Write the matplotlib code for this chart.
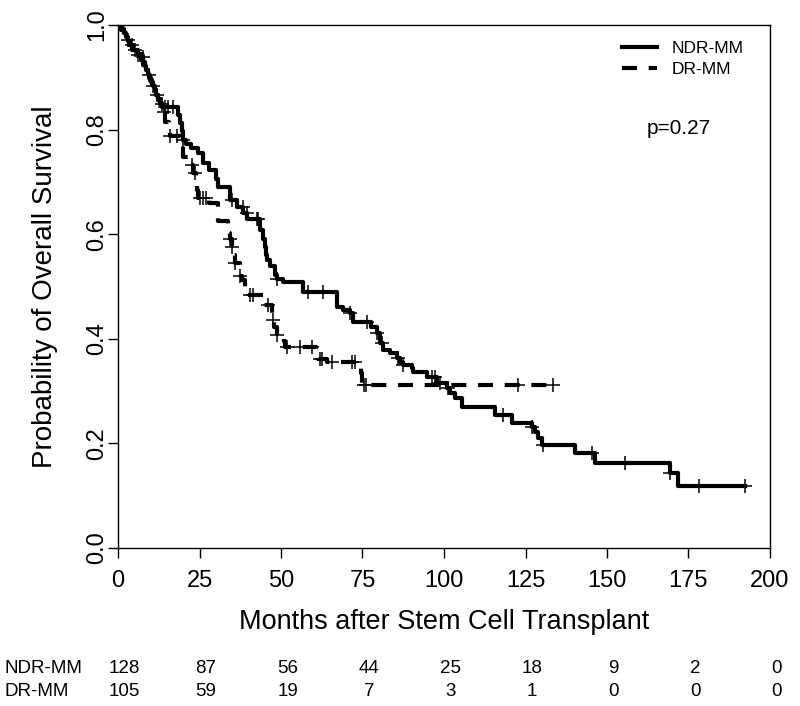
import numpy as np
import matplotlib
matplotlib.use("Agg")
import matplotlib.pyplot as plt

plt.rcParams['font.family'] = ['Liberation Sans', 'DejaVu Sans']

# ---- data ----
ndr_times = [1.2, 1.8, 2.5, 3.2, 3.8, 4.6, 6.0, 7.5, 7.8, 8.2, 8.7, 9.2, 9.6, 10.0, 10.6,
             11.2, 11.6, 12.2, 12.8, 13.5, 18.5, 19.0, 19.5, 19.8, 21.0, 22.5, 24.5, 26.0,
             28.0, 30.0, 30.8, 34.4, 36.5, 38.4, 39.6, 43.6, 44.5, 45.0, 45.3, 45.7, 46.6,
             48.2, 48.8, 50.6, 56.8, 67.2, 69.0, 71.2, 72.1, 77.5, 79.4, 80.4, 81.3, 83.4,
             85.6, 86.5, 87.4, 90.2, 90.5, 94.8, 97.9, 100.9, 101.8, 103.4, 105.5, 115.6,
             120.9, 127.0, 127.9, 128.8, 130.0, 140.2, 146.3, 169.3, 171.8]
ndr_surv = [0.992, 0.984, 0.977, 0.969, 0.961, 0.953, 0.945, 0.938, 0.930, 0.922, 0.914,
            0.906, 0.898, 0.891, 0.883, 0.875, 0.867, 0.859, 0.851, 0.843, 0.828, 0.812,
            0.797, 0.781, 0.773, 0.765, 0.755, 0.737, 0.723, 0.705, 0.690, 0.666, 0.652,
            0.640, 0.630, 0.608, 0.590, 0.575, 0.560, 0.550, 0.540, 0.522, 0.515, 0.508,
            0.490, 0.461, 0.455, 0.449, 0.432, 0.423, 0.411, 0.392, 0.379, 0.373, 0.363,
            0.356, 0.350, 0.344, 0.337, 0.327, 0.315, 0.306, 0.296, 0.287, 0.270, 0.254,
            0.239, 0.231, 0.222, 0.210, 0.197, 0.182, 0.163, 0.143, 0.119]
ndr_censor = [4.3, 5.2, 7.7, 10.7, 12.0, 14.4, 15.3, 16.9, 20.0, 35.0, 38.3, 39.5, 42.6,
              43.0, 48.8, 58.3, 62.9, 71.2, 76.4, 79.5, 81.0, 86.0, 87.4, 96.3, 97.2, 98.8,
              101.2, 118.0, 127.0, 130.4, 145.4, 155.5, 169.3, 178.2, 192.3]

dr_times = [1.0, 1.7, 2.4, 3.3, 4.2, 5.5, 7.2, 7.8, 8.4, 9.0, 9.7, 10.3, 11.0, 11.7, 12.3,
            13.0, 13.6, 14.4, 15.5, 16.0, 19.4, 19.8, 22.5, 22.9, 23.9, 24.2, 24.5, 28.0,
            30.7, 33.7, 34.4, 35.0, 35.6, 36.0, 37.4, 38.0, 39.0, 39.6, 44.5, 47.3, 47.7,
            48.8, 50.8, 51.2, 60.8, 61.3, 64.0, 74.6, 75.0]
dr_surv = [0.990, 0.981, 0.971, 0.962, 0.952, 0.943, 0.933, 0.924, 0.914, 0.905, 0.895,
           0.886, 0.876, 0.867, 0.857, 0.848, 0.833, 0.815, 0.800, 0.788, 0.768, 0.748,
           0.733, 0.717, 0.700, 0.685, 0.670, 0.660, 0.625, 0.603, 0.590, 0.575, 0.560,
           0.545, 0.520, 0.512, 0.497, 0.484, 0.465, 0.435, 0.423, 0.407, 0.395, 0.384,
           0.370, 0.362, 0.356, 0.334, 0.312]
dr_censor = [3.0, 6.0, 9.5, 13.5, 14.0, 16.0, 18.0, 22.7, 23.6, 25.0, 26.0, 27.0, 34.4,
             35.0, 36.0, 37.4, 40.5, 41.4, 46.0, 47.5, 48.8, 51.8, 55.8, 59.5, 62.0, 62.6,
             65.6, 71.8, 72.7, 75.5, 76.0, 122.7, 133.5]

risk_times = [0, 25, 50, 75, 100, 125, 150, 175, 200]
ndr_risk = [128, 87, 56, 44, 25, 18, 9, 2, 0]
dr_risk = [105, 59, 19, 7, 3, 1, 0, 0, 0]

group_labels = ["NDR-MM", "DR-MM"]
p_text = "p=0.27"


def km_curve(times, surv, censor):
    t = np.concatenate([[0.0], np.asarray(times, float)])
    s = np.concatenate([[1.0], np.asarray(surv, float)])
    t_end = max(max(censor), t[-1])
    t = np.append(t, t_end)
    s = np.append(s, s[-1])
    c = np.asarray(censor, float)
    idx = np.searchsorted(t[:-1], c, side='right') - 1
    return t, s, c, s[idx]


fig = plt.figure(figsize=(8.0, 7.06), dpi=100)
ax = fig.add_axes([0.1475, 0.2238, 0.815, 0.7408])

styles = [dict(ls='-'), dict(ls=(0, (3.6, 2.8)))]
handles = []
for (times, surv, cens), st, lab in zip(
        [(ndr_times, ndr_surv, ndr_censor), (dr_times, dr_surv, dr_censor)],
        styles, group_labels):
    t, s, c, cy = km_curve(times, surv, cens)
    h, = ax.step(t, s, where='post', color='black', lw=3, linestyle=st['ls'], label=lab)
    ax.plot(c, cy, ls='none', marker='+', ms=10, mew=1.1, color='black')
    handles.append(h)

ax.set_xlim(0, 200)
ax.set_ylim(0, 1)
ax.set_xticks(risk_times)
ax.set_yticks([0.0, 0.2, 0.4, 0.6, 0.8, 1.0])
ax.set_yticklabels(["0.0", "0.2", "0.4", "0.6", "0.8", "1.0"], rotation=90, va='center')
ax.tick_params(axis='both', labelsize=17, length=7.2, width=1, direction='out')
ax.tick_params(axis='x', pad=8.8)
ax.tick_params(axis='y', pad=0)
for sp in ax.spines.values():
    sp.set_linewidth(1)
ax.set_xlabel("Months after Stem Cell Transplant", fontsize=19.5, labelpad=12)
ax.set_ylabel("Probability of Overall Survival", fontsize=20, labelpad=20)

leg = ax.legend(handles=handles, loc='upper left', bbox_to_anchor=(0.773, 0.969),
                frameon=False, fontsize=12.5, handlelength=2.0, handletextpad=0.85,
                labelspacing=0.32, borderpad=0, borderaxespad=0)

ax.text(0.8595, 0.803, p_text, transform=ax.transAxes, fontsize=15, ha='center', va='center')

# number at risk table
trans = matplotlib.transforms.blended_transform_factory(ax.transData, fig.transFigure)
for row_y, lab, vals in [(0.0538, group_labels[0], ndr_risk), (0.0212, group_labels[1], dr_risk)]:
    fig.text(0.006, row_y, lab, fontsize=13.5, ha='left', va='center')
    for tm, v in zip(risk_times, vals):
        ax.text(tm + 2.0, row_y, str(v), transform=trans, fontsize=13.5,
                ha='center', va='center', clip_on=False)

fig.savefig("out.png", dpi=100)
